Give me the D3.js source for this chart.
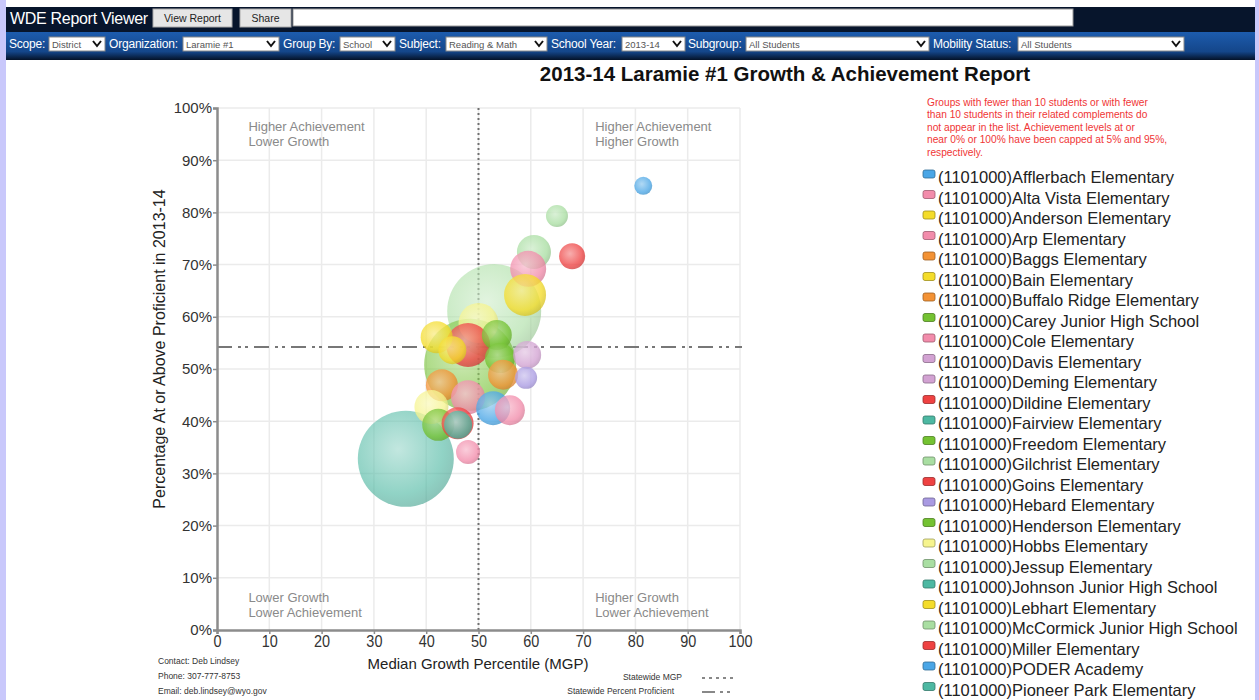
<!DOCTYPE html>
<html>
<head>
<meta charset="utf-8">
<script src="https://cdn.jsdelivr.net/npm/d3@7"></script>
<style>
  body { margin: 0; background: #fff; font-family: Arial, "Liberation Sans", sans-serif; }
  svg text { font-family: Arial, "Liberation Sans", sans-serif; }
</style>
</head>
<body>
<svg id="vis"></svg>
<script>
// legend (school list, alphabetical as in the report; the visible part of it)
var schools = [
  'Afflerbach Elementary', 'Alta Vista Elementary', 'Anderson Elementary', 'Arp Elementary',
  'Baggs Elementary', 'Bain Elementary', 'Buffalo Ridge Elementary', 'Carey Junior High School',
  'Cole Elementary', 'Davis Elementary', 'Deming Elementary', 'Dildine Elementary',
  'Fairview Elementary', 'Freedom Elementary', 'Gilchrist Elementary', 'Goins Elementary',
  'Hebard Elementary', 'Henderson Elementary', 'Hobbs Elementary', 'Jessup Elementary',
  'Johnson Junior High School', 'Lebhart Elementary', 'McCormick Junior High School',
  'Miller Elementary', 'PODER Academy', 'Pioneer Park Elementary'
];
var schoolColours = [
  '#4aa6e6', '#f28cab', '#f4dc2a', '#f28cab',
  '#f39234', '#f4dc2a', '#f39234', '#74c232',
  '#f28cab', '#d2a2d2', '#d2a2d2', '#ee4242',
  '#4db8a2', '#74c232', '#a9dea2', '#ee4242',
  '#a99ae2', '#74c232', '#f6f48e', '#a9dea2',
  '#4db8a2', '#f4dc2a', '#a9dea2',
  '#ee4242', '#4aa6e6', '#4db8a2'
];
// schools further down the (scrolled) legend, not in view
var moreSchools = ['Rossman Elementary', 'Saddle Ridge Elementary', 'Sunrise Elementary'];
var moreColours = ['#f28cab', '#f6f48e', '#74c232'];

// bubbles: school, median growth percentile, % proficient, students tested
var bubbleSchool = [
  'McCormick Junior High School', 'Carey Junior High School', 'Johnson Junior High School',
  'PODER Academy', 'Gilchrist Elementary', 'Jessup Elementary', 'Goins Elementary',
  'Alta Vista Elementary', 'Anderson Elementary', 'Saddle Ridge Elementary',
  'Dildine Elementary', 'Lebhart Elementary', 'Bain Elementary', 'Freedom Elementary',
  'Henderson Elementary', 'Buffalo Ridge Elementary', 'Deming Elementary',
  'Hebard Elementary', 'Baggs Elementary', 'Arp Elementary', 'Hobbs Elementary',
  'Afflerbach Elementary', 'Cole Elementary', 'Sunrise Elementary', 'Miller Elementary',
  'Fairview Elementary', 'Rossman Elementary'
];
var bubbleMGP = [
  53.0, 48.4, 36.1,
  81.5, 65.0, 60.6, 67.9,
  59.5, 58.9, 50.0,
  48.0, 42.0, 45.0, 53.5,
  54.1, 54.7, 59.3,
  59.1, 43.0, 48.0, 41.0,
  52.8, 56.0, 42.3, 46.0,
  46.1, 48.0
];
var bubblePct = [
  61.1, 50.8, 32.8,
  85.1, 79.3, 72.4, 71.6,
  69.2, 64.2, 58.8,
  54.6, 56.1, 53.6, 56.5,
  52.1, 48.9, 52.7,
  48.3, 46.9, 44.6, 42.7,
  42.5, 42.1, 39.3, 39.6,
  39.3, 34.1
];
var bubbleN = [
  2209, 2116, 2304,
  81, 121, 289, 169,
  324, 441, 400,
  484, 256, 196, 225,
  225, 225, 196,
  121, 256, 289, 289,
  289, 225, 256, 256,
  196, 144
];

var xTicks = [0, 10, 20, 30, 40, 50, 60, 70, 80, 90, 100];
var yTicks = [0, 10, 20, 30, 40, 50, 60, 70, 80, 90, 100];
var statewideMGP = 50;
var statewidePct = 54.2;

var noteLines = [
  'Groups with fewer than 10 students or with fewer',
  'than 10 students in their related complements do',
  'not appear in the list. Achievement levels at or',
  'near 0% or 100% have been capped at 5% and 95%,',
  'respectively.'
];

// header controls
var filterLabels = ['Scope:', 'Organization:', 'Group By:', 'Subject:', 'School Year:', 'Subgroup:', 'Mobility Status:'];
var filterValues = ['District', 'Laramie #1', 'School', 'Reading & Math', '2013-14', 'All Students', 'All Students'];
var filterLabelX = [9, 109, 283, 399, 551, 688, 933];
var filterBoxX = [49, 183, 340, 446, 622, 746, 1018];
var filterBoxW = [56, 96, 55, 101, 63, 183, 166];

var width = 1259, height = 700;
var svg = d3.select('#vis').attr('width', width).attr('height', height);
var defs = svg.append('defs');

// page frame
svg.append('rect').attr('width', width).attr('height', height).attr('fill', '#fff');
svg.append('rect').attr('x', 0).attr('y', 0).attr('width', 6).attr('height', height).attr('fill', '#c9c8fb');
svg.append('rect').attr('x', 1255).attr('y', 0).attr('width', 4).attr('height', height).attr('fill', '#c9c8fb');

// header bars
var hg = defs.append('linearGradient').attr('id', 'bar2').attr('x1', 0).attr('y1', 0).attr('x2', 0).attr('y2', 1);
hg.append('stop').attr('offset', '0%').attr('stop-color', '#1d5cae');
hg.append('stop').attr('offset', '70%').attr('stop-color', '#14468a');
hg.append('stop').attr('offset', '100%').attr('stop-color', '#041228');
svg.append('rect').attr('x', 6).attr('y', 7).attr('width', 1249).attr('height', 25).attr('fill', '#07152c');
svg.append('rect').attr('x', 6).attr('y', 32).attr('width', 1249).attr('height', 28).attr('fill', 'url(#bar2)');

svg.append('text').attr('x', 10).attr('y', 24).attr('fill', '#fff').attr('font-size', 16)
  .attr('letter-spacing', -0.3).text('WDE Report Viewer');
var buttons = [['View Report', 153, 79], ['Share', 240, 51]];
buttons.forEach(function(b) {
  svg.append('rect').attr('x', b[1]).attr('y', 9).attr('width', b[2]).attr('height', 18)
    .attr('fill', '#e6e6e6').attr('stroke', '#aaa');
  svg.append('text').attr('x', b[1] + b[2] / 2).attr('y', 22).attr('text-anchor', 'middle')
    .attr('font-size', 10.5).attr('fill', '#222').text(b[0]);
});
svg.append('rect').attr('x', 293).attr('y', 9).attr('width', 780).attr('height', 17)
  .attr('fill', '#fff').attr('stroke', '#999');

filterLabels.forEach(function(l, i) {
  svg.append('text').attr('x', filterLabelX[i]).attr('y', 48).attr('fill', '#fff')
    .attr('font-size', 12).attr('letter-spacing', -0.2).text(l);
  svg.append('rect').attr('x', filterBoxX[i]).attr('y', 37).attr('width', filterBoxW[i]).attr('height', 14)
    .attr('fill', '#fff').attr('stroke', '#888');
  svg.append('text').attr('x', filterBoxX[i] + 3).attr('y', 48).attr('fill', '#555')
    .attr('font-size', 9.5).text(filterValues[i]);
  var cx = filterBoxX[i] + filterBoxW[i] - 8;
  svg.append('path').attr('d', 'M' + (cx - 4) + ',41 L' + cx + ',46 L' + (cx + 4) + ',41')
    .attr('fill', 'none').attr('stroke', '#111').attr('stroke-width', 2);
});

// title
svg.append('text').attr('x', 785).attr('y', 81).attr('text-anchor', 'middle')
  .attr('font-size', 20.5).attr('font-weight', 'bold').attr('fill', '#111')
  .text('2013-14 Laramie #1 Growth & Achievement Report');

// plot
var plotLeft = 217, plotRight = 740, plotTop = 108, plotBottom = 630;
var x = d3.scaleLinear().domain([0, 100]).range([plotLeft, plotRight]);
var y = d3.scaleLinear().domain([0, 100]).range([plotBottom, plotTop]);
var r = d3.scaleSqrt().domain([0, d3.max(bubbleN)]).range([0, 48]);

var plot = svg.append('g');
plot.append('g').selectAll('line').data(xTicks.slice(1)).enter().append('line')
  .attr('x1', d => x(d)).attr('x2', d => x(d)).attr('y1', plotTop).attr('y2', plotBottom)
  .attr('stroke', '#ebebeb').attr('stroke-width', 1.5);
plot.append('g').selectAll('line').data(yTicks.slice(1)).enter().append('line')
  .attr('x1', plotLeft).attr('x2', plotRight).attr('y1', d => y(d)).attr('y2', d => y(d))
  .attr('stroke', '#ebebeb').attr('stroke-width', 1.5);

var quad = [
  ['Higher Achievement', 'Lower Growth', 6, 95, -3],
  ['Higher Achievement', 'Higher Growth', 72.3, 95, -3],
  ['Lower Growth', 'Lower Achievement', 6, 6, 3],
  ['Higher Growth', 'Lower Achievement', 72.3, 6, 3]
];
quad.forEach(function(q) {
  var t = plot.append('text').attr('x', x(q[2])).attr('y', y(q[3]) + q[4]).attr('font-size', 13).attr('fill', '#8a8a8a');
  t.append('tspan').attr('x', x(q[2])).attr('dy', 0).text(q[0]);
  t.append('tspan').attr('x', x(q[2])).attr('dy', 15).text(q[1]);
});

// statewide reference lines
plot.append('line').attr('x1', x(statewideMGP)).attr('x2', x(statewideMGP)).attr('y1', plotTop).attr('y2', plotBottom)
  .attr('stroke', '#6f6f6f').attr('stroke-width', 2).attr('stroke-dasharray', '2,3');
plot.append('line').attr('x1', plotLeft).attr('x2', plotRight + 2).attr('y1', y(statewidePct)).attr('y2', y(statewidePct))
  .attr('stroke', '#777').attr('stroke-width', 2).attr('stroke-dasharray', '15,6,3,4,3,6');

// bubble gradients
var allNames = schools.concat(moreSchools);
var allColours = schoolColours.concat(moreColours);
var uniq = Array.from(new Set(allColours));
uniq.forEach(function(c, i) {
  var g = defs.append('radialGradient').attr('id', 'bub' + i).attr('cx', '42%').attr('cy', '40%').attr('r', '62%');
  g.append('stop').attr('offset', '0%').attr('stop-color', d3.interpolateRgb(c, '#fff')(0.45));
  g.append('stop').attr('offset', '75%').attr('stop-color', c);
  g.append('stop').attr('offset', '100%').attr('stop-color', d3.color(c).darker(0.35));
});
function colourOf(name) { return allColours[allNames.indexOf(name)]; }
function gradOf(name) { return 'url(#bub' + uniq.indexOf(colourOf(name)) + ')'; }

var bubbles = bubbleSchool.map(function(s, i) {
  return { school: s, mgp: bubbleMGP[i], pct: bubblePct[i], n: bubbleN[i] };
});
plot.append('g').selectAll('circle').data(bubbles).enter().append('circle')
  .attr('cx', d => x(d.mgp)).attr('cy', d => y(d.pct)).attr('r', d => r(d.n))
  .attr('fill', d => gradOf(d.school)).attr('opacity', d => d.n > 2000 ? 0.62 : 0.78);

// axes
var xAxis = plot.append('g').attr('transform', 'translate(0,' + plotBottom + ')')
  .call(d3.axisBottom(x).tickValues(xTicks).tickSize(4).tickPadding(1));
var yAxis = plot.append('g').attr('transform', 'translate(' + plotLeft + ',0)')
  .call(d3.axisLeft(y).tickValues(yTicks).tickSize(4).tickPadding(1).tickFormat(d => d + '%'));
[xAxis, yAxis].forEach(function(a) {
  a.select('.domain').attr('stroke', '#8c8c8c').attr('stroke-width', 2.5);
  a.selectAll('.tick line').attr('stroke', '#8c8c8c').attr('stroke-width', 1.5);
  a.selectAll('text').attr('font-size', 15).attr('fill', '#333').attr('font-family', 'Arial, Liberation Sans, sans-serif');
});
xAxis.selectAll('.tick text').attr('font-size', 17).attr('transform', 'scale(0.85,1)');

svg.append('text').attr('x', 478).attr('y', 669).attr('text-anchor', 'middle').attr('font-size', 15)
  .attr('fill', '#222').text('Median Growth Percentile (MGP)');
svg.append('text').attr('transform', 'translate(165,349) rotate(-90)').attr('text-anchor', 'middle')
  .attr('font-size', 16).attr('fill', '#222').text('Percentage At or Above Proficient in 2013-14');

// footer
var contact = ['Contact: Deb Lindsey', 'Phone: 307-777-8753', 'Email: deb.lindsey@wyo.gov'];
contact.forEach(function(c, i) {
  svg.append('text').attr('x', 158).attr('y', 664 + i * 15).attr('font-size', 8.5).attr('fill', '#333').text(c);
});
svg.append('text').attr('x', 682).attr('y', 680).attr('text-anchor', 'end').attr('font-size', 8.5).attr('fill', '#333').text('Statewide MGP');
svg.append('text').attr('x', 674).attr('y', 694).attr('text-anchor', 'end').attr('font-size', 8.5).attr('fill', '#333').text('Statewide Percent Proficient');
svg.append('line').attr('x1', 702).attr('x2', 737).attr('y1', 678).attr('y2', 678)
  .attr('stroke', '#888').attr('stroke-width', 2).attr('stroke-dasharray', '3,4');
svg.append('line').attr('x1', 702).attr('x2', 737).attr('y1', 692).attr('y2', 692)
  .attr('stroke', '#888').attr('stroke-width', 2).attr('stroke-dasharray', '13,5,3,4,3,20');

// legend
var note = svg.append('g');
noteLines.forEach(function(l, i) {
  note.append('text').attr('x', 927).attr('y', 106 + i * 12.4).attr('font-size', 10.2)
    .attr('fill', '#f03535').text(l);
});
var legendY = d3.scaleLinear().domain([0, 1]).range([177, 197.5]);
var items = svg.append('g').selectAll('g').data(schools).enter().append('g')
  .attr('transform', (d, i) => 'translate(923,' + legendY(i) + ')');
items.append('rect').attr('x', 0).attr('y', -7).attr('width', 12).attr('height', 8).attr('rx', 2)
  .attr('fill', (d, i) => schoolColours[i]).attr('stroke', (d, i) => d3.color(schoolColours[i]).darker(1.2))
  .attr('stroke-width', 0.8);
items.append('text').attr('x', 15).attr('y', 6).attr('font-size', 16.5).attr('fill', '#222')
  .text(d => '(1101000)' + d);
</script>
</body>
</html>
